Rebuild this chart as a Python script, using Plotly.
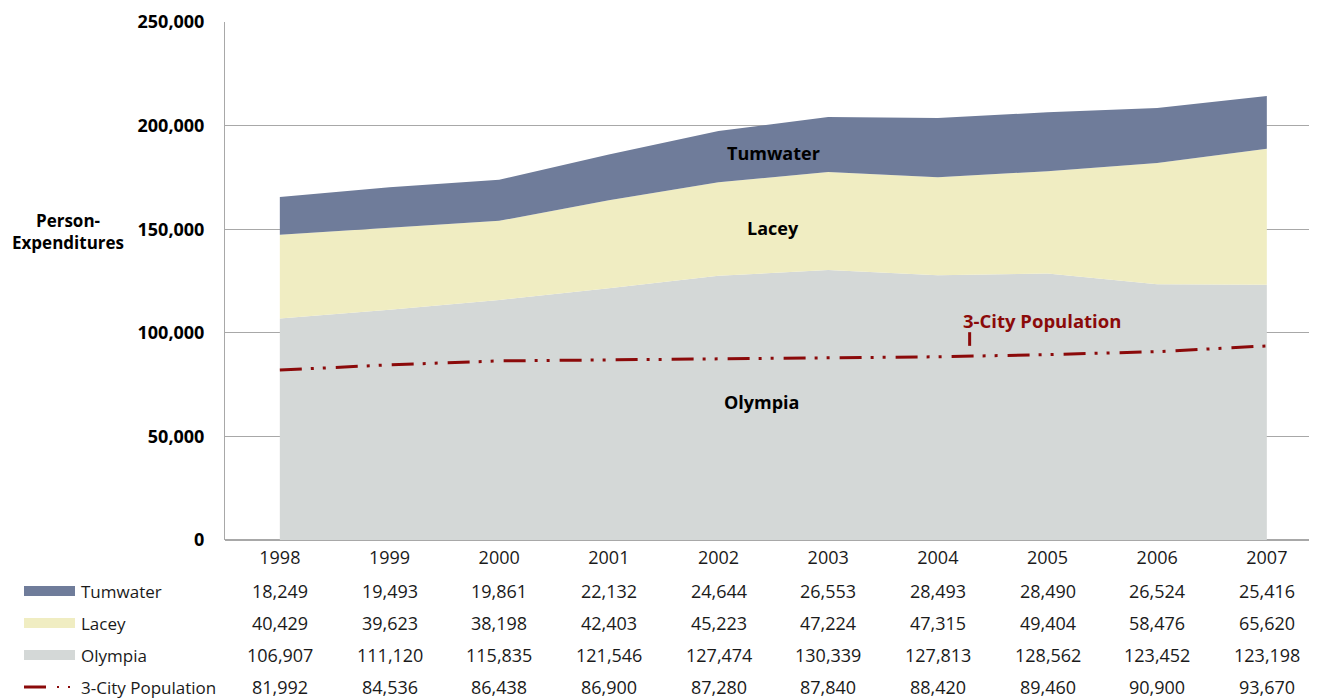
import plotly.graph_objects as go

years = ["1998", "1999", "2000", "2001", "2002", "2003", "2004", "2005", "2006", "2007"]
tumwater = [18249, 19493, 19861, 22132, 24644, 26553, 28493, 28490, 26524, 25416]
lacey = [40429, 39623, 38198, 42403, 45223, 47224, 47315, 49404, 58476, 65620]
olympia = [106907, 111120, 115835, 121546, 127474, 130339, 127813, 128562, 123452, 123198]
population = [81992, 84536, 86438, 86900, 87280, 87840, 88420, 89460, 90900, 93670]

C_TUM = "#6f7c9a"
C_LAC = "#f0edc2"
C_OLY = "#d4d8d7"
C_POP = "#8b0a0a"
FONT = "Open Sans"
TXT = "#1a1a1a"

xs = list(range(len(years)))
fig = go.Figure()
fig.add_trace(go.Scatter(x=xs, y=olympia, stackgroup="a", mode="none", fillcolor=C_OLY, name="Olympia"))
fig.add_trace(go.Scatter(x=xs, y=lacey, stackgroup="a", mode="none", fillcolor=C_LAC, name="Lacey"))
fig.add_trace(go.Scatter(x=xs, y=tumwater, stackgroup="a", mode="none", fillcolor=C_TUM, name="Tumwater"))
fig.add_trace(go.Scatter(x=xs, y=population, mode="lines", name="3-City Population",
                         line=dict(color=C_POP, width=3, dash="22px,9px,3px,9px,3px,10px")))

# page offset (body margin) compensation
OFF = 8
# plot geometry in screen pixels
L, R, T, B = 225, 1317, 22, 540
W, H = R - L, B - T
FW, FH = 1317 - OFF, 698 - OFF

def px_to_px(px):
    return (px - L) / W

def py_to_py(py):
    return (B - py) / H

annotations = []
for txt, x, y in [("Tumwater", 4.5, 187000), ("Lacey", 4.5, 150500), ("Olympia", 4.4, 66500)]:
    annotations.append(dict(x=x, y=y, xref="x", yref="y", text=f"<b>{txt}</b>", showarrow=False,
                            font=dict(family=FONT, size=18, color="black")))
annotations.append(dict(x=6.95, y=105700, xref="x", yref="y", text="<b>3-City Population</b>",
                        showarrow=False, font=dict(family=FONT, size=18.5, color=C_POP)))

annotations.append(dict(x=px_to_px(68), y=py_to_py(232), xref="paper", yref="paper",
                        xanchor="center", yanchor="middle",
                        text="<b>Person-<br>Expenditures</b>", showarrow=False, align="center",
                        font=dict(family=FONT, size=17, color="black")))

rows = [("Tumwater", tumwater, 591), ("Lacey", lacey, 623), ("Olympia", olympia, 655),
        ("3-City Population", population, 687)]
shapes = []
for name, vals, py in rows:
    yp = py_to_py(py)
    annotations.append(dict(x=px_to_px(79), y=yp, xref="paper", yref="paper", text=name,
                            showarrow=False, xanchor="left", yanchor="middle",
                            font=dict(family=FONT, size=17, color=TXT)))
    for i, v in enumerate(vals):
        annotations.append(dict(x=xs[i], y=yp, xref="x", yref="paper", text=f"{v:,}",
                                xanchor="center", yanchor="middle",
                                showarrow=False, font=dict(family=FONT, size=18, color=TXT)))

for col, py in [(C_TUM, 591), (C_LAC, 623), (C_OLY, 655)]:
    shapes.append(dict(type="rect", xref="paper", yref="paper", x0=px_to_px(24), x1=px_to_px(75),
                       y0=py_to_py(py + 5), y1=py_to_py(py - 5), fillcolor=col, line=dict(width=0)))
shapes.append(dict(type="line", xref="paper", yref="paper", x0=px_to_px(24), x1=px_to_px(46),
                   y0=py_to_py(687), y1=py_to_py(687), line=dict(color=C_POP, width=3)))
for dx in (57, 68):
    shapes.append(dict(type="rect", xref="paper", yref="paper", x0=px_to_px(dx), x1=px_to_px(dx + 2),
                       y0=py_to_py(688), y1=py_to_py(686), fillcolor=C_POP, line=dict(width=0)))
shapes.append(dict(type="line", xref="x", yref="y", x0=6.29, x1=6.29, y0=93700, y1=100300,
                   line=dict(color=C_POP, width=3)))

fig.update_layout(
    width=FW, height=FH,
    margin=dict(l=L - OFF, r=FW - (R - OFF), t=T - OFF, b=FH - (B - OFF)),
    plot_bgcolor="white", paper_bgcolor="white",
    showlegend=False,
    annotations=annotations, shapes=shapes,
    font=dict(family=FONT),
)
xr = (R - L) / ((1267 - 280) / 9) - 0.5
fig.update_xaxes(range=[-0.5, xr], tickmode="array", tickvals=xs, ticktext=years,
                 showgrid=False, showline=False, zeroline=False,
                 tickfont=dict(family=FONT, size=18, color=TXT), ticks="", ticklabelstandoff=5)
fig.update_yaxes(range=[0, 250000], tickvals=[0, 50000, 100000, 150000, 200000, 250000],
                 ticktext=["<b>0</b>", "<b>50,000</b>", "<b>100,000</b>", "<b>150,000</b>",
                           "<b>200,000</b>", "<b>250,000</b>"],
                 showgrid=True, gridcolor="#a8a8a8", gridwidth=1,
                 showline=True, linecolor="#a8a8a8", linewidth=1,
                 zeroline=True, zerolinecolor="#a8a8a8", zerolinewidth=2,
                 tickfont=dict(family=FONT, size=18, color="black"), ticklabelstandoff=16)

fig.write_html("out.html")
